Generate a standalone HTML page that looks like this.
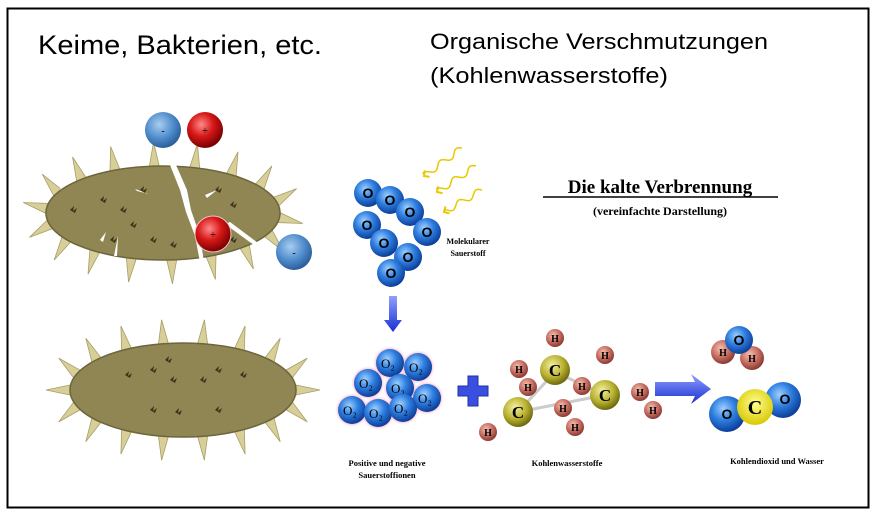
<!DOCTYPE html>
<html><head><meta charset="utf-8"><style>
html,body{margin:0;padding:0;background:#fff;width:877px;height:516px;overflow:hidden}
svg{display:block}
.s{font-family:"Liberation Serif",serif;font-weight:bold}
</style></head><body>
<svg id="g" width="877" height="516" viewBox="0 0 877 516" xmlns="http://www.w3.org/2000/svg">
<defs>
<radialGradient id="bl" cx="40%" cy="35%" r="65%"><stop offset="0" stop-color="#9fd0ff"/><stop offset="0.5" stop-color="#2f7fe0"/><stop offset="1" stop-color="#0c3f9a"/></radialGradient>
<radialGradient id="ib" cx="40%" cy="35%" r="65%"><stop offset="0" stop-color="#a8cdf0"/><stop offset="0.6" stop-color="#4f8ccc"/><stop offset="1" stop-color="#2c5f9a"/></radialGradient>
<radialGradient id="rd" cx="40%" cy="35%" r="65%"><stop offset="0" stop-color="#ff8a8a"/><stop offset="0.5" stop-color="#d81818"/><stop offset="1" stop-color="#7a0000"/></radialGradient>
<radialGradient id="hh" cx="40%" cy="35%" r="65%"><stop offset="0" stop-color="#f5c0b0"/><stop offset="0.6" stop-color="#c46a5e"/><stop offset="1" stop-color="#8a3a34"/></radialGradient>
<radialGradient id="cc" cx="40%" cy="35%" r="65%"><stop offset="0" stop-color="#f5f0a0"/><stop offset="0.6" stop-color="#b8b030"/><stop offset="1" stop-color="#6f6a10"/></radialGradient>
<radialGradient id="yc" cx="50%" cy="40%" r="60%"><stop offset="0" stop-color="#ffff90"/><stop offset="1" stop-color="#d8c800"/></radialGradient>
<radialGradient id="gl" cx="50%" cy="50%" r="50%"><stop offset="0.7" stop-color="#ff7fb0"/><stop offset="1" stop-color="#ffd0e0" stop-opacity="0"/></radialGradient>
<linearGradient id="ar" x1="0" y1="0" x2="0" y2="1"><stop offset="0" stop-color="#8fa0ff"/><stop offset="1" stop-color="#1a2fd0"/></linearGradient>
</defs>
<rect x="7.5" y="8.5" width="861" height="499" fill="#fff" stroke="#000" stroke-width="2"/>
<text x="38" y="54" font-family="Liberation Sans,sans-serif" font-size="27" textLength="284" lengthAdjust="spacingAndGlyphs" fill="#000">Keime, Bakterien, etc.</text>
<text x="430" y="49" font-family="Liberation Sans,sans-serif" font-size="22" textLength="338" lengthAdjust="spacingAndGlyphs" fill="#000">Organische Verschmutzungen</text>
<text x="430" y="83" font-family="Liberation Sans,sans-serif" font-size="22" textLength="238" lengthAdjust="spacingAndGlyphs" fill="#000">(Kohlenwasserstoffe)</text>
<g id="spk"></g>
<ellipse cx="163" cy="213" rx="117" ry="47" fill="#8f8654" stroke="#6d653c" stroke-width="1.5"/>
<ellipse cx="183" cy="390" rx="113" ry="47" fill="#8f8654" stroke="#6d653c" stroke-width="1.5"/>
<path d="M170 165 L180 190 L186 212 L195 236 L200 262 L204 262 L200 236 L191 210 L187 190 L176 165Z" fill="#fff"/>
<path d="M225 224 L258 248 L262 246 L230 222Z" fill="#fff"/>
<path d="M58 182 l3 8 l1 -8z M100 240 l6 -8 l-3 10z M118 236 l-4 20 l3 0z M135 189 l14 5 l-12 -3z M205 195 l12 -5 l-10 8z" fill="#fff"/>
<g id="dots"></g>
<circle cx="163" cy="130" r="18" fill="url(#ib)"/><text x="163" y="134" font-size="10" text-anchor="middle">-</text>
<circle cx="205" cy="130" r="18" fill="url(#rd)"/><text x="205" y="134" font-size="11" text-anchor="middle">+</text>
<circle cx="213" cy="234" r="18" fill="url(#rd)" stroke="#f0c0c0"/><text x="213" y="238" font-size="11" text-anchor="middle">+</text>
<circle cx="294" cy="252" r="18" fill="url(#ib)"/><text x="294" y="256" font-size="10" text-anchor="middle">-</text>
<g id="wv" fill="none" stroke="#e8c800" stroke-width="1.5"></g>
<g id="oc"></g>
<text class="s" x="468" y="244" font-size="8" text-anchor="middle">Molekularer</text>
<text class="s" x="468" y="256" font-size="8" text-anchor="middle">Sauerstoff</text>
<text class="s" x="660" y="193" font-size="19" text-anchor="middle">Die kalte Verbrennung</text>
<line x1="543" y1="197" x2="778" y2="197" stroke="#000" stroke-width="1.5"/>
<text class="s" x="660" y="215" font-size="12" text-anchor="middle">(vereinfachte Darstellung)</text>
<path d="M389 296 h8 v24 h5 l-9 12 l-9 -12 h5z" fill="url(#ar)"/>
<g id="o2"></g>
<path d="M468 376 h10 v10 h10 v10 h-10 v10 h-10 v-10 h-10 v-10 h10z" fill="#3a4fe0" stroke="#2030a0"/>
<g id="hc"></g>
<path d="M655 382 h40 l-4 -8 l20 15 l-20 15 l4 -8 h-40z" fill="url(#ar)"/>
<g id="pr"></g>
<text class="s" x="387" y="466" font-size="8.5" text-anchor="middle">Positive und negative</text>
<text class="s" x="387" y="478" font-size="8.5" text-anchor="middle">Sauerstoffionen</text>
<text class="s" x="567" y="466" font-size="8.5" text-anchor="middle">Kohlenwasserstoffe</text>
<text class="s" x="777" y="464" font-size="8.5" text-anchor="middle">Kohlendioxid und Wasser</text>
</svg>
<script>
var NS="http://www.w3.org/2000/svg";
function el(p,t,a,tx){var e=document.createElementNS(NS,t);for(var k in a)e.setAttribute(k,a[k]);if(tx)e.textContent=tx;document.getElementById(p).appendChild(e);return e;}
function wave(x1,y1,x2,y2){var dx=x2-x1,dy=y2-y1,L=Math.hypot(dx,dy),ux=dx/L,uy=dy/L,px=-uy,py=ux,d="";for(var t=0;t<=L;t+=1){var a=3*Math.sin(t/3.2);d+=(t?"L":"M")+(x1+ux*t+px*a).toFixed(1)+" "+(y1+uy*t+py*a).toFixed(1);}el("wv","path",{d:d});el("wv","path",{d:"M"+(x2+px*4-ux*4)+" "+(y2+py*4-uy*4)+"L"+x2+" "+y2+"L"+(x2-px*4-ux*4)+" "+(y2-py*4-uy*4),"stroke-width":2});}
wave(462,148,424,176);wave(476,166,437,192);wave(482,190,444,212);
function spikes(cx,cy,rx,ry,n,off){for(var i=0;i<n;i++){var a=off+i*2*Math.PI/n;var x=cx+rx*Math.cos(a),y=cy+ry*Math.sin(a);var nx=Math.cos(a)/rx,ny=Math.sin(a)/ry;var l=Math.hypot(nx,ny);nx/=l;ny/=l;var L=24,w=5;el("spk","path",{d:"M"+(x-ny*w)+" "+(y+nx*w)+" L"+(x+nx*L)+" "+(y+ny*L)+" L"+(x+ny*w)+" "+(y-nx*w)+"Z",fill:"#d8cf98",stroke:"#a89e68","stroke-width":"0.8"});}}
spikes(163,213,117,47,18,0.1);spikes(183,390,113,47,18,0.0);
[[70,210],[100,200],[120,210],[140,190],[130,225],[150,240],[170,245],[110,240],[215,190],[230,205],[230,240],[125,375],[150,370],[165,360],[170,380],[200,380],[215,370],[240,375],[150,410],[175,412],[215,410]].forEach(function(p){el("dots","path",{d:"M"+p[0]+" "+p[1]+" l4 -4 l-1 5 l4 -3 l-2 5z",fill:"#3a3518"});});
[[368,193],[390,200],[410,212],[367,225],[427,232],[384,243],[408,257],[391,273]].forEach(function(p){el("oc","circle",{cx:p[0],cy:p[1],r:14,fill:"url(#bl)"});el("oc","text",{x:p[0],y:p[1]+5,"font-size":14,"font-weight":"bold","text-anchor":"middle","font-family":"Liberation Sans,sans-serif"},"O");});
[[390,363],[418,367],[368,383],[400,388],[427,398],[352,410],[378,413],[403,408]].forEach(function(p){el("o2","circle",{cx:p[0],cy:p[1],r:17,fill:"url(#gl)"});});
[[390,363],[418,367],[368,383],[400,388],[427,398],[352,410],[378,413],[403,408]].forEach(function(p){el("o2","circle",{cx:p[0],cy:p[1],r:14,fill:"url(#bl)"});el("o2","text",{x:p[0]-2,y:p[1]+5,"font-size":13,"text-anchor":"middle","font-family":"Liberation Serif,serif"},"O₂");});
var Hs=[[555,338],[519,369],[528,387],[582,386],[605,355],[563,408],[575,427],[488,432],[653,410],[640,392]];
[[555,372,518,412],[518,412,605,395],[555,372,605,395]].forEach(function(l){el("hc","line",{x1:l[0],y1:l[1],x2:l[2],y2:l[3],stroke:"#ccc","stroke-width":3});});
Hs.forEach(function(p){el("hc","circle",{cx:p[0],cy:p[1],r:9,fill:"url(#hh)"});el("hc","text",{x:p[0],y:p[1]+4,"font-size":10,"font-weight":"bold","text-anchor":"middle","font-family":"Liberation Serif,serif"},"H");});
[[555,370],[518,412],[605,395]].forEach(function(p){el("hc","circle",{cx:p[0],cy:p[1],r:15,fill:"url(#cc)"});el("hc","text",{x:p[0],y:p[1]+6,"font-size":17,"font-weight":"bold","text-anchor":"middle","font-family":"Liberation Serif,serif"},"C");});
el("pr","circle",{cx:723,cy:352,r:12,fill:"url(#hh)"});el("pr","circle",{cx:752,cy:358,r:12,fill:"url(#hh)"});el("pr","circle",{cx:739,cy:340,r:14,fill:"url(#bl)"});
el("pr","text",{x:723,y:356,"font-size":10,"font-weight":"bold","text-anchor":"middle","font-family":"Liberation Serif,serif"},"H");el("pr","text",{x:752,y:362,"font-size":10,"font-weight":"bold","text-anchor":"middle","font-family":"Liberation Serif,serif"},"H");el("pr","text",{x:739,y:345,"font-size":14,"font-weight":"bold","text-anchor":"middle","font-family":"Liberation Sans,sans-serif"},"O");
el("pr","circle",{cx:727,cy:414,r:18,fill:"url(#bl)"});el("pr","circle",{cx:783,cy:400,r:18,fill:"url(#bl)"});el("pr","circle",{cx:755,cy:407,r:18,fill:"url(#yc)"});
el("pr","text",{x:727,y:419,"font-size":14,"font-weight":"bold","text-anchor":"middle","font-family":"Liberation Sans,sans-serif"},"O");el("pr","text",{x:785,y:404,"font-size":14,"font-weight":"bold","text-anchor":"middle","font-family":"Liberation Sans,sans-serif"},"O");el("pr","text",{x:755,y:414,"font-size":20,"font-weight":"bold","text-anchor":"middle","font-family":"Liberation Serif,serif"},"C");
</script>
</body></html>
